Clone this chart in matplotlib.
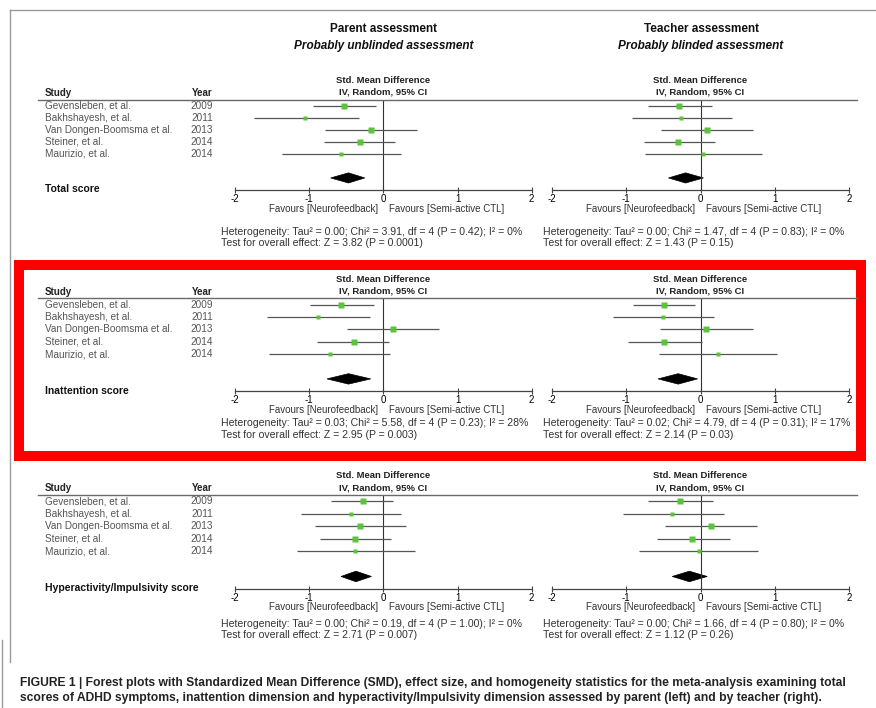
import numpy as np
import matplotlib
matplotlib.use("Agg")
import matplotlib.pyplot as plt
import matplotlib.transforms as mtransforms
from matplotlib.patches import Polygon, Rectangle
from matplotlib.lines import Line2D

plt.rcParams['font.family'] = ['Liberation Sans', 'DejaVu Sans']

studies = ["Gevensleben, et al.", "Bakhshayesh, et al.", "Van Dongen-Boomsma et al.",
           "Steiner, et al.", "Maurizio, et al."]
years = ["2009", "2011", "2013", "2014", "2014"]
weights = [30, 13, 19, 26, 12]
outcomes = ["Total score", "Inattention score", "Hyperactivity/Impulsivity score"]
ticks = [-2, -1, 0, 1, 2]

# parent assessment (left column)
parent_total_smd = [-0.53, -1.05, -0.17, -0.32, -0.57]
parent_total_lo = [-0.95, -1.75, -0.78, -0.80, -1.37]
parent_total_hi = [-0.10, -0.33, 0.45, 0.16, 0.24]
parent_total_pool = [-0.47, -0.71, -0.25]

parent_inatt_smd = [-0.57, -0.88, 0.13, -0.40, -0.72]
parent_inatt_lo = [-0.99, -1.57, -0.49, -0.89, -1.54]
parent_inatt_hi = [-0.13, -0.18, 0.75, 0.08, 0.09]
parent_inatt_pool = [-0.47, -0.76, -0.17]

parent_hyper_smd = [-0.28, -0.44, -0.31, -0.38, -0.38]
parent_hyper_lo = [-0.70, -1.11, -0.92, -0.86, -1.16]
parent_hyper_hi = [0.13, 0.24, 0.31, 0.10, 0.43]
parent_hyper_pool = [-0.37, -0.57, -0.16]

# teacher assessment (right column)
teacher_total_smd = [-0.29, -0.26, 0.09, -0.30, 0.04]
teacher_total_lo = [-0.71, -0.92, -0.53, -0.76, -0.75]
teacher_total_hi = [0.16, 0.43, 0.71, 0.20, 0.82]
teacher_total_pool = [-0.20, -0.43, 0.04]

teacher_inatt_smd = [-0.49, -0.51, 0.08, -0.49, 0.24]
teacher_inatt_lo = [-0.91, -1.18, -0.54, -0.97, -0.56]
teacher_inatt_hi = [-0.07, 0.18, 0.70, 0.02, 1.03]
teacher_inatt_pool = [-0.30, -0.57, -0.04]

teacher_hyper_smd = [-0.27, -0.38, 0.14, -0.11, -0.02]
teacher_hyper_lo = [-0.70, -1.04, -0.48, -0.58, -0.82]
teacher_hyper_hi = [0.17, 0.31, 0.76, 0.39, 0.77]
teacher_hyper_pool = [-0.15, -0.38, 0.09]

parent_het = ["Heterogeneity: Tau\u00b2 = 0.00; Chi\u00b2 = 3.91, df = 4 (P = 0.42); I\u00b2 = 0%",
              "Heterogeneity: Tau\u00b2 = 0.03; Chi\u00b2 = 5.58, df = 4 (P = 0.23); I\u00b2 = 28%",
              "Heterogeneity: Tau\u00b2 = 0.00; Chi\u00b2 = 0.19, df = 4 (P = 1.00); I\u00b2 = 0%"]
parent_test = ["Test for overall effect: Z = 3.82 (P = 0.0001)",
               "Test for overall effect: Z = 2.95 (P = 0.003)",
               "Test for overall effect: Z = 2.71 (P = 0.007)"]
teacher_het = ["Heterogeneity: Tau\u00b2 = 0.00; Chi\u00b2 = 1.47, df = 4 (P = 0.83); I\u00b2 = 0%",
               "Heterogeneity: Tau\u00b2 = 0.02; Chi\u00b2 = 4.79, df = 4 (P = 0.31); I\u00b2 = 17%",
               "Heterogeneity: Tau\u00b2 = 0.00; Chi\u00b2 = 1.66, df = 4 (P = 0.80); I\u00b2 = 0%"]
teacher_test = ["Test for overall effect: Z = 1.43 (P = 0.15)",
                "Test for overall effect: Z = 2.14 (P = 0.03)",
                "Test for overall effect: Z = 1.12 (P = 0.26)"]

parent = [(parent_total_smd, parent_total_lo, parent_total_hi, parent_total_pool),
          (parent_inatt_smd, parent_inatt_lo, parent_inatt_hi, parent_inatt_pool),
          (parent_hyper_smd, parent_hyper_lo, parent_hyper_hi, parent_hyper_pool)]
teacher = [(teacher_total_smd, teacher_total_lo, teacher_total_hi, teacher_total_pool),
           (teacher_inatt_smd, teacher_inatt_lo, teacher_inatt_hi, teacher_inatt_pool),
           (teacher_hyper_smd, teacher_hyper_lo, teacher_hyper_hi, teacher_hyper_pool)]

W, H = 876, 708
fig = plt.figure(figsize=(W / 100, H / 100), dpi=100)
fig.patch.set_facecolor("white")

def fx(x):
    return x / W

def fy(y):
    return 1 - y / H

# block layout in pixels: header line, x axis, heterogeneity line, test line
blocks = [(99.5, 190, 232, 243), (298.3, 391.3, 423, 435), (495, 589, 624, 635)]
columns = [(235, 531.7, 221), (551.7, 849.3, 543)]

grey = "#555555"
green = "#5cc43a"

for b, (top, bottom, het_y, test_y) in enumerate(blocks):
    # header line over the whole table
    fig.add_artist(Line2D([fx(38), fx(857)], [fy(top), fy(top)], color="#6a6a6a", lw=1.0))
    for c, (x0, x1, tx) in enumerate(columns):
        smd, lo, hi, pool = (parent, teacher)[c][b]
        het = (parent_het, teacher_het)[c][b]
        test = (parent_test, teacher_test)[c][b]
        ax = fig.add_axes([fx(x0), fy(bottom), fx(x1 - x0), (bottom - top) / H])
        ax.set_xlim(-2, 2)
        ax.set_ylim(7, -0.5)
        ax.patch.set_alpha(0)
        for s in ["top", "left", "right"]:
            ax.spines[s].set_visible(False)
        ax.spines["bottom"].set_color("#444444")
        ax.spines["bottom"].set_linewidth(0.9)
        ax.set_yticks([])
        ax.set_xticks(ticks)
        ax.set_xticklabels([str(t) for t in ticks])
        ax.tick_params(axis="x", direction="inout", length=5, width=0.8,
                       color="#444444", labelsize=7, pad=0.5)
        ax.axvline(0, color="#333333", lw=0.8)

        rows = np.arange(len(smd))
        ax.hlines(rows, lo, hi, color=grey, lw=0.9)
        for r in rows:
            ax.plot(smd[r], r, "s", color=green, ms=0.85 * np.sqrt(weights[r]), mec="none")
        c_, l_, h_ = pool
        ax.add_patch(Polygon([(l_, 6), (c_, 6 - 0.42), (h_, 6), (c_, 6 + 0.42)],
                             closed=True, fc="black", ec="black", lw=0.5))

        tr = mtransforms.blended_transform_factory(ax.transData, fig.transFigure)
        ax.text(-0.07, fy(bottom + 18.5), "Favours [Neurofeedback]", transform=tr,
                ha="right", va="center", fontsize=7, color="#333333")
        ax.text(0.07, fy(bottom + 18.5), "Favours [Semi-active CTL]", transform=tr,
                ha="left", va="center", fontsize=7, color="#333333")
        ax.text(0, fy(top - 19), "Std. Mean Difference", transform=tr,
                ha="center", va="center", fontsize=6.8, fontweight="bold", color="#222222")
        ax.text(0, fy(top - 7), "IV, Random, 95% CI", transform=tr,
                ha="center", va="center", fontsize=6.8, fontweight="bold", color="#222222")

        fig.text(fx(tx), fy(het_y), het, ha="left", va="center", fontsize=7.6, color="#333333")
        fig.text(fx(tx), fy(test_y), test, ha="left", va="center", fontsize=7.6, color="#333333")

        if c == 0:
            tl = mtransforms.blended_transform_factory(fig.transFigure, ax.transData)
            for r in rows:
                ax.text(fx(45), r, studies[r], transform=tl, ha="left", va="center",
                        fontsize=7.2, color=grey)
                ax.text(fx(213), r, years[r], transform=tl, ha="right", va="center",
                        fontsize=7.2, color=grey)
            ax.text(fx(45), 6.95, outcomes[b], transform=tl, ha="left", va="center",
                    fontsize=7.5, fontweight="bold", color="#111111")
            fig.text(fx(45), fy(top - 6.8), "Study", ha="left", va="center",
                     fontsize=7, fontweight="bold", color="#222222")
            fig.text(fx(213), fy(top - 6.8), "Year", ha="right", va="center",
                     fontsize=7, fontweight="bold", color="#222222")

# column titles
fig.text(fx(384), fy(29), "Parent assessment", ha="center", va="center",
         fontsize=8.5, fontweight="bold", color="#111111")
fig.text(fx(384), fy(46), "Probably unblinded assessment", ha="center", va="center",
         fontsize=8.5, fontweight="bold", fontstyle="italic", color="#111111")
fig.text(fx(701), fy(29), "Teacher assessment", ha="center", va="center",
         fontsize=8.5, fontweight="bold", color="#111111")
fig.text(fx(701), fy(46), "Probably blinded assessment", ha="center", va="center",
         fontsize=8.5, fontweight="bold", fontstyle="italic", color="#111111")

# red highlight around the inattention block
fig.add_artist(Rectangle((fx(19), fy(455.5)), fx(861 - 19), (455.5 - 265) / H,
                         transform=fig.transFigure, fill=False, ec="#ff0000", lw=7.2))

# page frame
fig.add_artist(Line2D([fx(10), fx(10)], [fy(10), fy(662)], color="#9a9a9a", lw=1.0))
fig.add_artist(Line2D([fx(10), fx(876)], [fy(10), fy(10)], color="#9a9a9a", lw=1.0))
fig.add_artist(Line2D([fx(2), fx(2)], [fy(640), fy(708)], color="#9a9a9a", lw=1.0))

# caption
fig.text(fx(20), fy(683), "FIGURE 1 | Forest plots with Standardized Mean Difference (SMD), effect size, "
         "and homogeneity statistics for the meta-analysis examining total",
         ha="left", va="center", fontsize=8.7, fontweight="bold", color="#222222")
fig.text(fx(20), fy(698), "scores of ADHD symptoms, inattention dimension and hyperactivity/Impulsivity "
         "dimension assessed by parent (left) and by teacher (right).",
         ha="left", va="center", fontsize=8.7, fontweight="bold", color="#222222")

fig.savefig("out.png", dpi=100, facecolor="white")
